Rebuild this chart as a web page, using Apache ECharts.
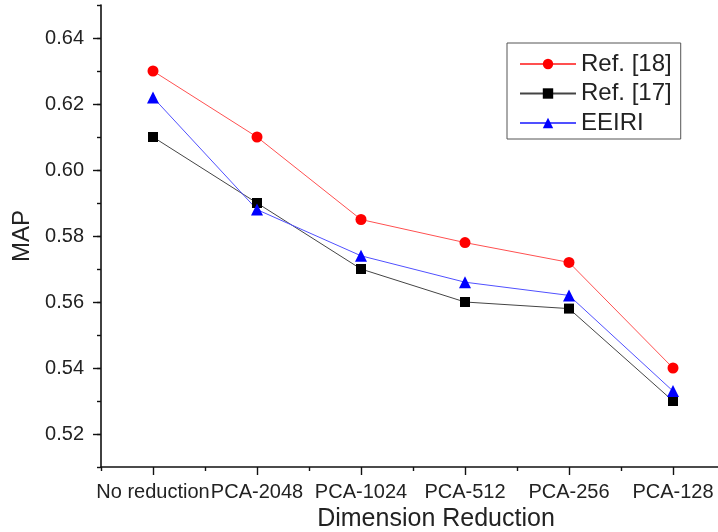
<!DOCTYPE html>
<html>
<head>
<meta charset="utf-8">
<script src="https://cdn.jsdelivr.net/npm/echarts@6/dist/echarts.min.js"></script>
<style>
  html, body { margin: 0; padding: 0; background: #fff; }
  #main { width: 718px; height: 532px; }
</style>
</head>
<body>
<div id="main"></div>
<script>
const categories = ['No reduction', 'PCA-2048', 'PCA-1024', 'PCA-512', 'PCA-256', 'PCA-128']
const ref18 = [0.630, 0.610, 0.585, 0.578, 0.572, 0.540]
const ref17 = [0.610, 0.590, 0.570, 0.560, 0.558, 0.530]
const eeiri = [0.622, 0.588, 0.574, 0.566, 0.562, 0.533]
// y range and the hundredths used for the major/minor tick split
const yMin = 0.51
const yMax = 0.65
const yTicks = ['0.51', '0.52', '0.53', '0.54', '0.55', '0.56', '0.57', '0.58',
  '0.59', '0.60', '0.61', '0.62', '0.63', '0.64', '0.65']

const font = 'Liberation Sans, Arial, sans-serif'
const axisColor = '#111'

let chart = echarts.init(document.getElementById('main'))

function lineSeries(name, data, lineColor, markColor, symbol, size) {
  return {
    name: name,
    type: 'line',
    data: data,
    symbol: symbol,
    symbolSize: size,
    lineStyle: { color: lineColor, width: 1 },
    itemStyle: { color: markColor },
    z: 3
  }
}

chart.setOption({
  animation: false,
  textStyle: { fontFamily: font },
  grid: { left: 101, top: 5, bottom: 65, right: -7, outerBoundsMode: 'none', containLabel: false },
  legend: {
    orient: 'vertical',
    left: 507,
    top: 43,
    padding: [9, 9, 4, 12],
    itemWidth: 56,
    itemHeight: 13,
    itemGap: 5.5,
    borderColor: '#555',
    borderWidth: 1,
    textStyle: { fontSize: 24, color: '#222', fontFamily: font },
    data: ['Ref. [18]', 'Ref. [17]', 'EEIRI']
  },
  xAxis: [{
    type: 'category',
    data: categories,
    boundaryGap: true,
    name: 'Dimension Reduction',
    nameLocation: 'middle',
    nameGap: 37,
    nameTextStyle: { fontSize: 25, color: '#222', padding: [0, 0, 0, 46] },
    axisLine: { lineStyle: { color: axisColor, width: 1.6 } },
    axisTick: { show: true, interval: 0, length: 4, lineStyle: { color: axisColor, width: 1.4 } },
    axisLabel: { interval: 0, margin: 15, fontSize: 20, color: '#222' },
    splitLine: { show: false }
  }, {
    // major ticks under each category
    type: 'category',
    data: categories,
    boundaryGap: true,
    position: 'bottom',
    axisLine: { show: false },
    axisTick: { show: true, alignWithLabel: true, interval: 0, length: 8, lineStyle: { color: axisColor, width: 1.4 } },
    axisLabel: { show: false },
    splitLine: { show: false }
  }],
  yAxis: [{
    type: 'value',
    min: yMin,
    max: yMax,
    interval: 0.01,
    name: 'MAP',
    nameLocation: 'middle',
    nameRotate: 90,
    nameGap: 65,
    nameTextStyle: { fontSize: 24, color: '#222' },
    axisLine: { show: true, lineStyle: { color: axisColor, width: 1.6 } },
    axisTick: { show: true, length: 4, lineStyle: { color: axisColor, width: 1.4 } },
    axisLabel: {
      margin: 17,
      fontSize: 20,
      color: '#222',
      formatter: v => (Math.round(v * 100) % 2 === 0 ? v.toFixed(2) : '')
    },
    splitLine: { show: false }
  }, {
    // major ticks at the labelled values
    type: 'category',
    data: yTicks,
    boundaryGap: false,
    position: 'left',
    axisLine: { show: false },
    axisTick: { show: true, interval: (i) => i % 2 === 1, length: 8, lineStyle: { color: axisColor, width: 1.4 } },
    axisLabel: { show: false },
    splitLine: { show: false }
  }],
  series: [
    lineSeries('Ref. [18]', ref18, '#ff5050', '#ff0000', 'circle', 11),
    lineSeries('Ref. [17]', ref17, '#444444', '#000000', 'rect', 10),
    lineSeries('EEIRI', eeiri, '#5050ff', '#0000ff', 'triangle', 12)
  ]
})
</script>
</body>
</html>
